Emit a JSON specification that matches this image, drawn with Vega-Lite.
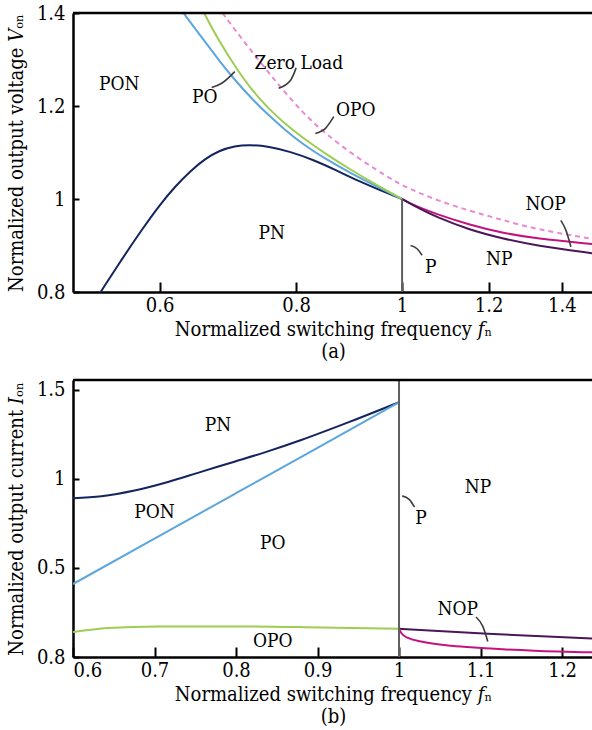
{
  "$schema": "https://vega.github.io/schema/vega-lite/v6.json",
  "autosize": {"type": "pad"},
  "padding": {"left": 6, "top": 3, "right": 0, "bottom": 0},
  "spacing": 17,
  "config": {
    "font": "DejaVu Serif Condensed, DejaVu Serif",
    "view": {"stroke": null},
    "axis": {
      "grid": false,
      "domainColor": "#000000",
      "domainWidth": 2.5,
      "tickColor": "#000000",
      "tickWidth": 2,
      "labelFont": "DejaVu Serif Condensed, DejaVu Serif",
      "labelFontSize": 20,
      "labelColor": "#000000",
      "titleFont": "DejaVu Serif Condensed, DejaVu Serif",
      "titleFontSize": 20,
      "titleFontWeight": "normal",
      "titleColor": "#000000"
    },
    "text": {"font": "DejaVu Serif Condensed, DejaVu Serif", "fontSize": 19, "color": "#000000"}
  },
  "datasets": {
    "voltage": [
      {"s": "pn", "x": 0.530, "y": 0.8},
      {"s": "pn", "x": 0.554, "y": 0.870},
      {"s": "pn", "x": 0.578, "y": 0.934},
      {"s": "pn", "x": 0.600, "y": 0.987},
      {"s": "pn", "x": 0.620, "y": 1.027},
      {"s": "pn", "x": 0.640, "y": 1.060},
      {"s": "pn", "x": 0.660, "y": 1.086},
      {"s": "pn", "x": 0.680, "y": 1.104},
      {"s": "pn", "x": 0.703, "y": 1.114},
      {"s": "pn", "x": 0.725, "y": 1.117},
      {"s": "pn", "x": 0.755, "y": 1.113},
      {"s": "pn", "x": 0.790, "y": 1.102},
      {"s": "pn", "x": 0.830, "y": 1.084},
      {"s": "pn", "x": 0.870, "y": 1.062},
      {"s": "pn", "x": 0.910, "y": 1.040},
      {"s": "pn", "x": 0.955, "y": 1.019},
      {"s": "pn", "x": 1.0, "y": 1.0},
      {"s": "po", "x": 0.631, "y": 1.4},
      {"s": "po", "x": 0.656, "y": 1.347},
      {"s": "po", "x": 0.679, "y": 1.300},
      {"s": "po", "x": 0.703, "y": 1.256},
      {"s": "po", "x": 0.729, "y": 1.215},
      {"s": "po", "x": 0.755, "y": 1.180},
      {"s": "po", "x": 0.782, "y": 1.148},
      {"s": "po", "x": 0.810, "y": 1.119},
      {"s": "po", "x": 0.851, "y": 1.086},
      {"s": "po", "x": 0.900, "y": 1.054},
      {"s": "po", "x": 0.950, "y": 1.026},
      {"s": "po", "x": 1.0, "y": 1.0},
      {"s": "opo", "x": 0.659, "y": 1.4},
      {"s": "opo", "x": 0.679, "y": 1.342},
      {"s": "opo", "x": 0.706, "y": 1.279},
      {"s": "opo", "x": 0.730, "y": 1.232},
      {"s": "opo", "x": 0.755, "y": 1.194},
      {"s": "opo", "x": 0.782, "y": 1.161},
      {"s": "opo", "x": 0.810, "y": 1.133},
      {"s": "opo", "x": 0.850, "y": 1.098},
      {"s": "opo", "x": 0.900, "y": 1.061},
      {"s": "opo", "x": 0.950, "y": 1.029},
      {"s": "opo", "x": 1.0, "y": 1.0},
      {"s": "nopm", "x": 1.0, "y": 1.0},
      {"s": "nopm", "x": 1.021, "y": 0.988},
      {"s": "nopm", "x": 1.073, "y": 0.968},
      {"s": "nopm", "x": 1.151, "y": 0.945},
      {"s": "nopm", "x": 1.235, "y": 0.927},
      {"s": "nopm", "x": 1.325, "y": 0.915},
      {"s": "nopm", "x": 1.495, "y": 0.903},
      {"s": "np", "x": 1.0, "y": 1.0},
      {"s": "np", "x": 1.036, "y": 0.980},
      {"s": "np", "x": 1.073, "y": 0.962},
      {"s": "np", "x": 1.151, "y": 0.934},
      {"s": "np", "x": 1.235, "y": 0.915},
      {"s": "np", "x": 1.325, "y": 0.900},
      {"s": "np", "x": 1.495, "y": 0.883}
    ],
    "voltageZero": [
      {"x": 0.685, "y": 1.4},
      {"x": 0.720, "y": 1.332},
      {"x": 0.771, "y": 1.245},
      {"x": 0.810, "y": 1.187},
      {"x": 0.850, "y": 1.141},
      {"x": 0.913, "y": 1.086},
      {"x": 0.979, "y": 1.042},
      {"x": 1.0, "y": 1.029},
      {"x": 1.070, "y": 0.999},
      {"x": 1.151, "y": 0.975},
      {"x": 1.235, "y": 0.955},
      {"x": 1.325, "y": 0.935},
      {"x": 1.495, "y": 0.914}
    ],
    "voltageLeaders": [
      {"id": "PO", "x": 0.6696, "y": 1.240},
      {"id": "PO", "x": 0.684, "y": 1.249},
      {"id": "PO", "x": 0.703, "y": 1.274},
      {"id": "ZL", "x": 0.771, "y": 1.238},
      {"id": "ZL", "x": 0.791, "y": 1.256},
      {"id": "ZL", "x": 0.800, "y": 1.282},
      {"id": "OPO", "x": 0.833, "y": 1.141},
      {"id": "OPO", "x": 0.851, "y": 1.152},
      {"id": "OPO", "x": 0.866, "y": 1.177},
      {"id": "P", "x": 1.018, "y": 0.900},
      {"id": "P", "x": 1.032, "y": 0.893},
      {"id": "P", "x": 1.043, "y": 0.879},
      {"id": "NOP", "x": 1.397, "y": 0.954},
      {"id": "NOP", "x": 1.412, "y": 0.933},
      {"id": "NOP", "x": 1.427, "y": 0.897}
    ],
    "voltageText": [
      {"t": "PON", "x": 0.551, "y": 1.247, "a": "center"},
      {"t": "PO", "x": 0.660, "y": 1.219, "a": "center"},
      {"t": "Zero Load", "x": 0.8046, "y": 1.292, "a": "left"},
      {"t": "OPO", "x": 0.907, "y": 1.191, "a": "center"},
      {"t": "PN", "x": 0.760, "y": 0.926, "a": "center"},
      {"t": "P", "x": 1.062, "y": 0.854, "a": "center"},
      {"t": "NP", "x": 1.227, "y": 0.872, "a": "center"},
      {"t": "NOP", "x": 1.353, "y": 0.990, "a": "center"}
    ],
    "current": [
      {"s": "pn", "x": 0.6, "y": 0.892},
      {"s": "pn", "x": 0.635, "y": 0.903},
      {"s": "pn", "x": 0.6755, "y": 0.935},
      {"s": "pn", "x": 0.7165, "y": 0.983},
      {"s": "pn", "x": 0.757, "y": 1.040},
      {"s": "pn", "x": 0.798, "y": 1.097},
      {"s": "pn", "x": 0.839, "y": 1.155},
      {"s": "pn", "x": 0.880, "y": 1.219},
      {"s": "pn", "x": 0.940, "y": 1.322},
      {"s": "pn", "x": 1.0, "y": 1.431},
      {"s": "po", "x": 0.6, "y": 0.410},
      {"s": "po", "x": 0.7, "y": 0.665},
      {"s": "po", "x": 0.8, "y": 0.920},
      {"s": "po", "x": 0.9, "y": 1.175},
      {"s": "po", "x": 1.0, "y": 1.431},
      {"s": "opo", "x": 0.6, "y": 0.140},
      {"s": "opo", "x": 0.643, "y": 0.163},
      {"s": "opo", "x": 0.704, "y": 0.172},
      {"s": "opo", "x": 0.806, "y": 0.172},
      {"s": "opo", "x": 0.9045, "y": 0.166},
      {"s": "opo", "x": 1.0, "y": 0.159},
      {"s": "np", "x": 1.0, "y": 0.159},
      {"s": "np", "x": 1.109, "y": 0.131},
      {"s": "np", "x": 1.238, "y": 0.103},
      {"s": "nopm", "x": 1.0, "y": 0.159},
      {"s": "nopm", "x": 1.0028, "y": 0.135},
      {"s": "nopm", "x": 1.011, "y": 0.107},
      {"s": "nopm", "x": 1.027, "y": 0.0875},
      {"s": "nopm", "x": 1.064, "y": 0.063},
      {"s": "nopm", "x": 1.1006, "y": 0.0505},
      {"s": "nopm", "x": 1.166, "y": 0.035},
      {"s": "nopm", "x": 1.238, "y": 0.026}
    ],
    "currentLeaders": [
      {"id": "P", "x": 1.004, "y": 0.905},
      {"id": "P", "x": 1.0128, "y": 0.884},
      {"id": "P", "x": 1.019, "y": 0.842},
      {"id": "NOP", "x": 1.0945, "y": 0.2245},
      {"id": "NOP", "x": 1.1028, "y": 0.1717},
      {"id": "NOP", "x": 1.1089, "y": 0.0875}
    ],
    "currentText": [
      {"t": "PN", "x": 0.778, "y": 1.304},
      {"t": "PON", "x": 0.700, "y": 0.817},
      {"t": "PO", "x": 0.845, "y": 0.640},
      {"t": "NP", "x": 1.097, "y": 0.957},
      {"t": "P", "x": 1.027, "y": 0.780},
      {"t": "OPO", "x": 0.845, "y": 0.0915},
      {"t": "NOP", "x": 1.072, "y": 0.271}
    ]
  },
  "vconcat": [
    {
      "width": 520,
      "height": 279,
      "encoding": {
        "x": {
          "field": "x",
          "type": "quantitative",
          "scale": {"type": "log", "domain": [0.5, 1.495], "nice": false},
          "axis": {
            "values": [0.6, 0.8, 1, 1.2, 1.4],
            "format": "~g",
            "tickSize": -10,
            "labelPadding": 13,
            "title": ["Normalized switching frequency 𝑓ₙ", "(a)"],
            "titleLineHeight": 22,
            "titlePadding": 4
          }
        },
        "y": {
          "field": "y",
          "type": "quantitative",
          "scale": {"domain": [0.8, 1.4], "nice": false, "zero": false},
          "axis": {
            "values": [0.8, 1, 1.2, 1.4],
            "format": "~g",
            "tickSize": -6,
            "labelPadding": 14,
            "title": "Normalized output voltage 𝑉ₒₙ",
            "titlePadding": 10
          }
        }
      },
      "layer": [
        {
          "data": {"name": "voltage"},
          "mark": {"type": "line", "strokeWidth": 2, "interpolate": "basis", "clip": true},
          "encoding": {
            "color": {
              "field": "s",
              "type": "nominal",
              "scale": {
                "domain": ["pn", "po", "opo", "nopm", "np"],
                "range": ["#14245c", "#5ca6de", "#9dcd52", "#c5137c", "#4b1659"]
              },
              "legend": null
            }
          }
        },
        {
          "data": {"name": "voltageZero"},
          "mark": {"type": "line", "strokeWidth": 2, "strokeDash": [5, 4], "color": "#e88bd2", "interpolate": "basis", "clip": true},
          "encoding": {}
        },
        {
          "data": {"values": [{"x": 1, "y": 0.8, "y2": 1.0}]},
          "mark": {"type": "rule", "strokeWidth": 2, "color": "#5f5f5f"},
          "encoding": {"y2": {"field": "y2"}}
        },
        {
          "data": {"values": [{"edge": 1.4}]},
          "mark": {"type": "rule", "strokeWidth": 2.5, "color": "#000000"},
          "encoding": {"x": null, "y": {"field": "edge", "type": "quantitative"}}
        },
        {
          "data": {"name": "voltageLeaders"},
          "mark": {"type": "line", "strokeWidth": 1.6, "color": "#3c3c3c", "interpolate": "monotone"},
          "encoding": {"detail": {"field": "id"}}
        },
        {
          "data": {"name": "voltageText"},
          "mark": {"type": "text", "baseline": "middle"},
          "encoding": {
            "text": {"field": "t"},
            "align": {"field": "a", "type": "nominal", "scale": null}
          }
        }
      ]
    },
    {
      "width": 520,
      "height": 277,
      "encoding": {
        "x": {
          "field": "x",
          "type": "quantitative",
          "scale": {"domain": [0.6, 1.238], "nice": false, "zero": false},
          "axis": {
            "values": [0.6, 0.7, 0.8, 0.9, 1, 1.1, 1.2],
            "format": "~g",
            "tickSize": -10,
            "labelPadding": 13,
            "title": ["Normalized switching frequency 𝑓ₙ", "(b)"],
            "titleLineHeight": 22,
            "titlePadding": 4
          }
        },
        "y": {
          "field": "y",
          "type": "quantitative",
          "scale": {"domain": [0, 1.556], "nice": false},
          "axis": {
            "values": [0, 0.5, 1, 1.5],
            "labelExpr": "datum.value === 0 ? '0.8' : format(datum.value, '~g')",
            "tickSize": -6,
            "labelPadding": 14,
            "title": "Normalized output current 𝐼ₒₙ",
            "titlePadding": 10
          }
        }
      },
      "layer": [
        {
          "data": {"name": "current"},
          "mark": {"type": "line", "strokeWidth": 2, "interpolate": "monotone", "clip": true},
          "encoding": {
            "color": {
              "field": "s",
              "type": "nominal",
              "scale": {
                "domain": ["pn", "po", "opo", "nopm", "np"],
                "range": ["#14245c", "#5ca6de", "#9dcd52", "#c5137c", "#4b1659"]
              },
              "legend": null
            }
          }
        },
        {
          "data": {"values": [{"x": 1, "y": 0, "y2": 1.556}]},
          "mark": {"type": "rule", "strokeWidth": 2, "color": "#5f5f5f"},
          "encoding": {"y2": {"field": "y2"}}
        },
        {
          "data": {"values": [{"edge": 1.556}]},
          "mark": {"type": "rule", "strokeWidth": 2.5, "color": "#000000"},
          "encoding": {"x": null, "y": {"field": "edge", "type": "quantitative"}}
        },
        {
          "data": {"name": "currentLeaders"},
          "mark": {"type": "line", "strokeWidth": 1.6, "color": "#3c3c3c", "interpolate": "monotone"},
          "encoding": {"detail": {"field": "id"}}
        },
        {
          "data": {"name": "currentText"},
          "mark": {"type": "text", "baseline": "middle", "align": "center"},
          "encoding": {"text": {"field": "t"}}
        }
      ]
    }
  ]
}
